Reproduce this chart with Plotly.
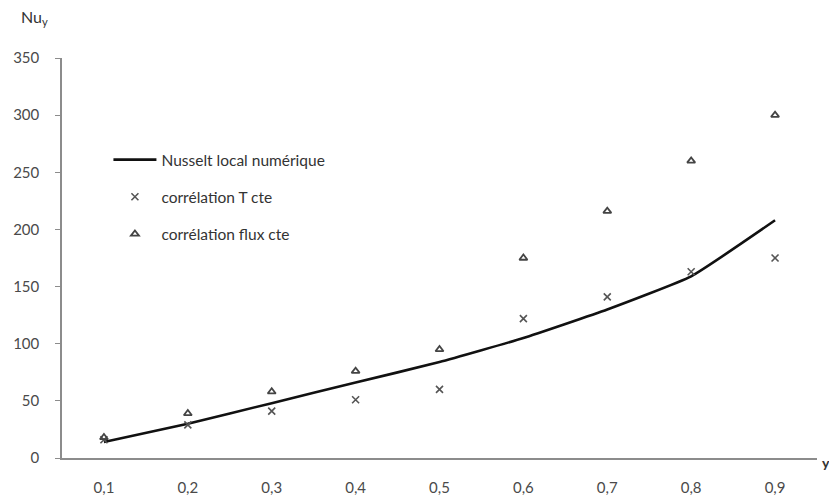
import plotly.graph_objects as go

y_pos = [0.1, 0.2, 0.3, 0.4, 0.5, 0.6, 0.7, 0.8, 0.9]
tick_labels = ["0,1", "0,2", "0,3", "0,4", "0,5", "0,6", "0,7", "0,8", "0,9"]
nu_numerique = [14, 30, 48, 66, 84, 105, 130, 159, 208]
nu_T_cte = [16, 29, 41, 51, 60, 122, 141, 163, 175]
nu_flux_cte = [18, 39, 58, 76, 95, 175, 216, 260, 300]
y_ticks = [0, 50, 100, 150, 200, 250, 300, 350]

FONT = "Lato, 'Open Sans', sans-serif"
TXT = "#4a4a4a"

fig = go.Figure()
fig.add_trace(go.Scatter(
    x=y_pos, y=nu_numerique, mode="lines", name="Nusselt local numérique",
    line=dict(color="#111111", width=2.6, shape="spline", smoothing=0.4),
    legendgroup="a"))
fig.add_trace(go.Scatter(
    x=y_pos, y=nu_T_cte, mode="markers", name="corrélation T cte",
    marker=dict(symbol="x-thin-open", size=7, color="#555555",
                line=dict(color="#555555", width=1.6)),
    legendgroup="b"))
fig.add_trace(go.Scatter(
    x=y_pos, y=nu_flux_cte, mode="markers", name="corrélation flux cte",
    marker=dict(symbol="triangle-up-open", size=7, color="#444444",
                line=dict(color="#444444", width=1.8)),
    legendgroup="c"))

# page body has an 8px default margin, so the figure is sized 829x489
fig.update_layout(
    width=829, height=489,
    margin=dict(l=54, r=20, t=50, b=39, autoexpand=False),
    paper_bgcolor="white", plot_bgcolor="white",
    font=dict(family=FONT, size=15, color=TXT),
    showlegend=True,
    legend=dict(x=0.0615, y=0.7875, xanchor="left", yanchor="top",
                bgcolor="rgba(0,0,0,0)", tracegroupgap=14,
                traceorder="grouped", itemwidth=43,
                font=dict(family=FONT, size=15.5, color="#333333")),
    xaxis=dict(range=[0.05, 0.95], tickvals=y_pos, ticktext=tick_labels,
               showgrid=False, zeroline=False, showline=True, automargin=False,
               linecolor="#8c8c8c", linewidth=1.5, ticks="",
               ticklabelstandoff=15,
               tickfont=dict(family=FONT, size=15, color=TXT)),
    yaxis=dict(range=[0, 350], tickvals=y_ticks, showgrid=False, zeroline=False,
               showline=True, automargin=False, linecolor="#8c8c8c", linewidth=1.5,
               ticks="outside", ticklen=5, tickcolor="#8c8c8c", tickwidth=1,
               ticklabelstandoff=13,
               tickfont=dict(family=FONT, size=15, color=TXT)),
    annotations=[
        dict(text="Nu<sub>y</sub>", x=-0.057, y=1.10, xref="paper", yref="paper",
             showarrow=False, xanchor="left", yanchor="middle",
             font=dict(family=FONT, size=16, color="#333333")),
        dict(text="<b>y</b>", x=1.0, y=0, xref="paper", yref="paper",
             showarrow=False, xanchor="center", yanchor="middle", xshift=9, yshift=-4,
             font=dict(family=FONT, size=14, color="#333333")),
    ],
)

fig.write_html("out.html")
